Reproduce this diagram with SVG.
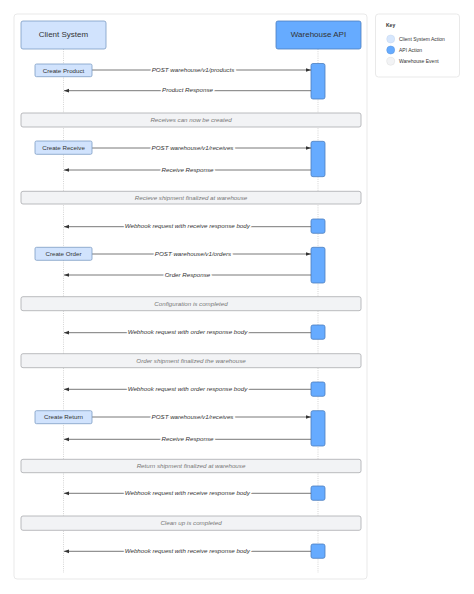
<svg xmlns="http://www.w3.org/2000/svg" width="474" height="594" viewBox="0 0 474 594">
<defs>
<style>
.frame{fill:#fff;stroke:#e3e3e3;stroke-width:0.8}
.cli{fill:#d1e3fd;stroke:#7c9cc4;stroke-width:0.8}
.api{fill:#66abff;stroke:#4d7fbf;stroke-width:0.8}
.note{fill:#f2f3f5;stroke:#a9abae;stroke-width:0.8}
.life{stroke:#b9b9b9;stroke-width:0.6;stroke-dasharray:1 1.2;fill:none}
.msg{stroke:#555;stroke-width:0.8;fill:none}
.t{font-family:"Liberation Sans",Arial,sans-serif;fill:#333;text-anchor:middle}
.title{font-size:8px}
.box{font-size:6.2px}
.lbl{font-size:6.2px;font-style:italic;fill:#333;paint-order:stroke;stroke:#fff;stroke-width:3.2}
.nt{font-size:6.2px;font-style:italic;fill:#777}
.key{font-family:"Liberation Sans",Arial,sans-serif;font-size:5px;fill:#333}
</style>
<marker id="ah" viewBox="0 0 6 6" refX="6" refY="3" markerWidth="5" markerHeight="5" markerUnits="userSpaceOnUse" orient="auto">
<path d="M0,0.8 L6,3 L0,5.2 z" fill="#333"/>
</marker>
</defs>
<rect x="0" y="0" width="474" height="594" fill="#fff"/>
<rect class="frame" x="14" y="14" width="353" height="565" rx="3"/>

<g id="lifelines">
<line class="life" x1="63.5" y1="49" x2="63.5" y2="573"/>
<line class="life" x1="318" y1="49" x2="318" y2="573"/>
</g>

<g id="client-system">
<rect class="cli" x="21" y="21" width="85" height="28" rx="2"/>
<text class="t title" x="63.5" y="37.3">Client System</text>
</g>
<g id="warehouse-api">
<rect class="api" x="276" y="21" width="85" height="28" rx="2"/>
<text class="t title" x="318.5" y="37.3">Warehouse API</text>
</g>

<g id="notes">
<g id="note-receives"><rect class="note" x="21" y="113" width="340" height="14" rx="2"/><text class="t nt" x="191" y="122.2">Receives can now be created</text></g>
<g id="note-receive-finalized"><rect class="note" x="21" y="191.3" width="340" height="12.7" rx="2"/><text class="t nt" x="191" y="199.8">Recieve shipment finalized at warehouse</text></g>
<g id="note-config"><rect class="note" x="21" y="296.7" width="340" height="14" rx="2"/><text class="t nt" x="191" y="305.8">Configuration is completed</text></g>
<g id="note-order-finalized"><rect class="note" x="21" y="353.7" width="340" height="14" rx="2"/><text class="t nt" x="191" y="362.8">Order shipment finalized the warehouse</text></g>
<g id="note-return-finalized"><rect class="note" x="21" y="459.3" width="340" height="13.4" rx="2"/><text class="t nt" x="191" y="468.2">Return shipment finalized at warehouse</text></g>
<g id="note-cleanup"><rect class="note" x="21" y="516" width="340" height="14.3" rx="2"/><text class="t nt" x="191" y="525.3">Clean up is completed</text></g>
</g>

<g id="activations">
<rect class="api" x="311" y="63.5" width="14" height="35.5" rx="2"/>
<rect class="api" x="311" y="141.3" width="14" height="35.4" rx="2"/>
<rect class="api" x="311" y="219" width="14" height="14.3" rx="2"/>
<rect class="api" x="311" y="247.3" width="14" height="35.7" rx="2"/>
<rect class="api" x="311" y="325" width="14" height="14.3" rx="2"/>
<rect class="api" x="311" y="382" width="14" height="14.3" rx="2"/>
<rect class="api" x="311" y="410.7" width="14" height="35.3" rx="2"/>
<rect class="api" x="311" y="486" width="14" height="14.3" rx="2"/>
<rect class="api" x="311" y="544" width="14" height="14.3" rx="2"/>
</g>

<g id="connectors">
<line class="msg" x1="92" y1="70" x2="311" y2="70" marker-end="url(#ah)"/>
<line class="msg" x1="311" y1="90.7" x2="64" y2="90.7" marker-end="url(#ah)"/>
<line class="msg" x1="92" y1="148" x2="311" y2="148" marker-end="url(#ah)"/>
<line class="msg" x1="311" y1="170" x2="64" y2="170" marker-end="url(#ah)"/>
<line class="msg" x1="311" y1="226.7" x2="64" y2="226.7" marker-end="url(#ah)"/>
<line class="msg" x1="92" y1="254" x2="311" y2="254" marker-end="url(#ah)"/>
<line class="msg" x1="311" y1="275" x2="64" y2="275" marker-end="url(#ah)"/>
<line class="msg" x1="311" y1="332.7" x2="64" y2="332.7" marker-end="url(#ah)"/>
<line class="msg" x1="311" y1="389.3" x2="64" y2="389.3" marker-end="url(#ah)"/>
<line class="msg" x1="92" y1="417" x2="311" y2="417" marker-end="url(#ah)"/>
<line class="msg" x1="311" y1="439.3" x2="64" y2="439.3" marker-end="url(#ah)"/>
<line class="msg" x1="311" y1="493.3" x2="64" y2="493.3" marker-end="url(#ah)"/>
<line class="msg" x1="311" y1="551.3" x2="64" y2="551.3" marker-end="url(#ah)"/>
<text class="t lbl" x="193" y="71.8">POST warehouse/v1/products</text>
<text class="t lbl" x="187.5" y="92.4">Product Response</text>
<text class="t lbl" x="192.5" y="149.8">POST warehouse/v1/receives</text>
<text class="t lbl" x="187.5" y="171.8">Receive Response</text>
<text class="t lbl" x="187.3" y="228.4">Webhook request with receive response body</text>
<text class="t lbl" x="193" y="255.8">POST warehouse/v1/orders</text>
<text class="t lbl" x="187.5" y="276.8">Order Response</text>
<text class="t lbl" x="187.5" y="334.4">Webhook request with order response body</text>
<text class="t lbl" x="187.5" y="391">Webhook request with order response body</text>
<text class="t lbl" x="192.5" y="418.8">POST warehouse/v1/receives</text>
<text class="t lbl" x="187.5" y="441">Receive Response</text>
<text class="t lbl" x="187.3" y="495">Webhook request with receive response body</text>
<text class="t lbl" x="187.3" y="553">Webhook request with receive response body</text>
</g>

<g id="create-product"><rect class="cli" x="35" y="64" width="57" height="12.7" rx="1.5"/><text class="t box" x="63.5" y="72.5">Create Product</text></g>
<g id="create-receive"><rect class="cli" x="35" y="141" width="57" height="13.3" rx="1.5"/><text class="t box" x="63.5" y="149.8">Create Receive</text></g>
<g id="create-order"><rect class="cli" x="35" y="247.3" width="57" height="13" rx="1.5"/><text class="t box" x="63.5" y="256">Create Order</text></g>
<g id="create-return"><rect class="cli" x="35" y="410.7" width="57" height="13" rx="1.5"/><text class="t box" x="63.5" y="419.3">Create Return</text></g>

<g id="key">
<rect class="frame" x="375.5" y="14" width="84" height="63" rx="3"/>
<text class="key" x="386" y="27" font-weight="bold" font-size="5.5">Key</text>
<circle cx="390.7" cy="39" r="4" fill="#d7e7fd" stroke="#c5d6ee" stroke-width="0.5"/>
<circle cx="390.7" cy="50" r="4" fill="#66abff" stroke="#5a95dd" stroke-width="0.5"/>
<circle cx="390.7" cy="61.3" r="4" fill="#f2f3f5" stroke="#dcdcdc" stroke-width="0.5"/>
<text class="key" x="399" y="40.7">Client System Action</text>
<text class="key" x="399" y="51.7">API Action</text>
<text class="key" x="399" y="63">Warehouse Event</text>
</g>
</svg>
